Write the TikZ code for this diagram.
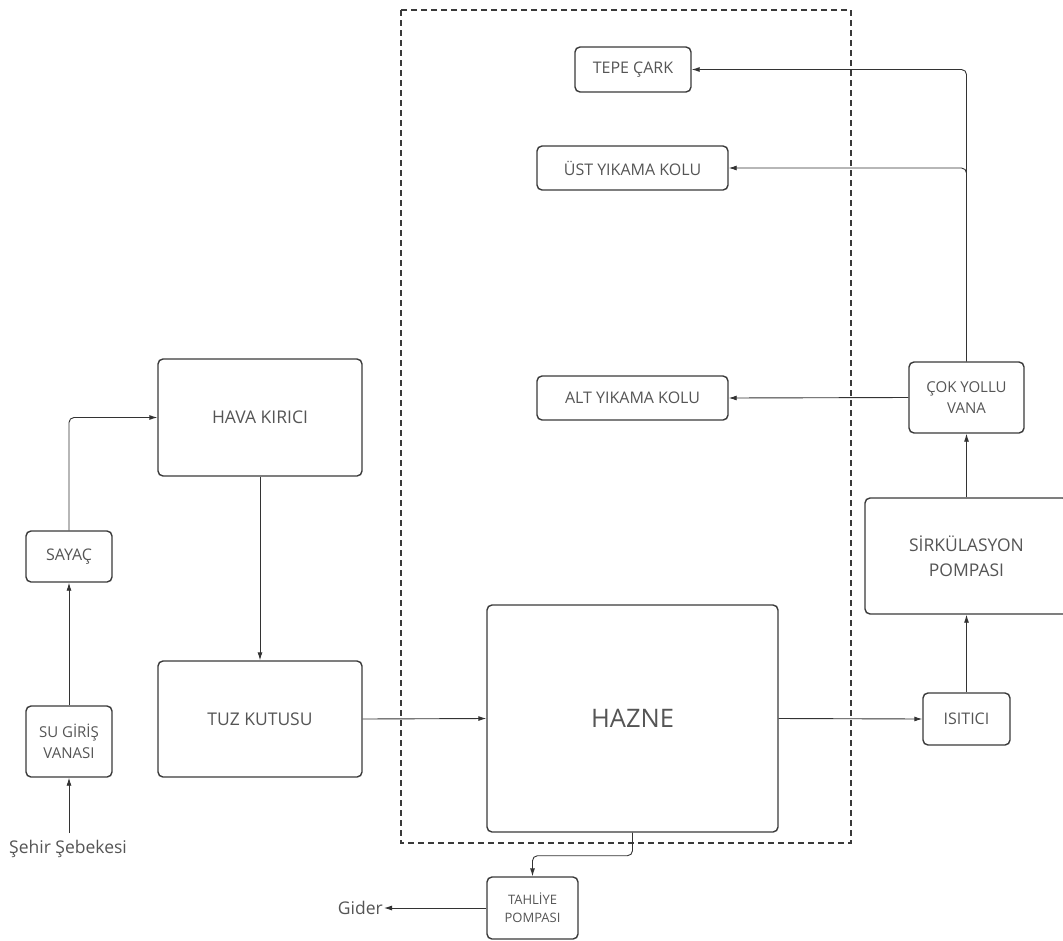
\documentclass[tikz,border=0pt]{standalone}
\usepackage{fontspec}
\setmainfont{Open Sans}
\usetikzlibrary{arrows.meta,calc}
\definecolor{edge}{HTML}{3A3A3A}
\definecolor{txt}{HTML}{555555}
\definecolor{wire}{HTML}{333333}
\tikzset{
  blk/.style={draw=edge, line width=1.4pt, rounded corners=5pt, fill=white,
    inner sep=0pt, align=center, text=txt, font=\fontsize{16}{21}\selectfont},
  twoline/.style={blk, font=\fontsize{15}{21}\selectfont},
  largeblk/.style={blk, font=\fontsize{17.5}{25}\selectfont},
  smallblk/.style={blk, font=\fontsize{13}{18}\selectfont},
  bigblk/.style={blk, font=\fontsize{25.5}{30}\selectfont},
  lbl/.style={text=txt, font=\fontsize{17.5}{20}\selectfont, inner sep=1pt},
  wire/.style={draw=wire, line width=0.9pt, rounded corners=5pt,
    -{Latex[length=8pt,width=5pt]}},
  group/.style={draw=edge, line width=1.4pt, dash pattern=on 6pt off 4pt},
}
\begin{document}
\begin{tikzpicture}[x=1pt,y=-1pt]
\useasboundingbox (0,0) rectangle (1063,940);
% dashed enclosure
\draw[group] (401,10) rectangle (851,843);
% blocks
\node[blk, minimum width=86pt, minimum height=51pt] (sayac) at (69,556.5) {SAYAÇ};
\node[twoline, minimum width=86pt, minimum height=71pt] (sugiris) at (69,741.5) {SU GİRİŞ\\VANASI};
\node[largeblk, minimum width=204pt, minimum height=117pt] (hava) at (260,417.5) {HAVA KIRICI};
\node[largeblk, minimum width=204pt, minimum height=116pt] (tuz) at (260,719) {TUZ KUTUSU};
\node[bigblk, minimum width=291pt, minimum height=227pt] (hazne) at (632.5,718.5) {HAZNE};
\node[smallblk, minimum width=91pt, minimum height=62pt] (tahliye) at (532.5,908) {TAHLİYE\\POMPASI};
\node[blk, minimum width=87pt, minimum height=52pt] (isitici) at (966.5,719) {ISITICI};
\node[largeblk, minimum width=203pt, minimum height=116pt] (sirk) at (966.5,556) {SİRKÜLASYON\\POMPASI};
\node[twoline, minimum width=115pt, minimum height=71pt] (cok) at (966.5,397.5) {ÇOK YOLLU\\VANA};
\node[blk, minimum width=116pt, minimum height=45pt] (tepe) at (633,69.5) {TEPE ÇARK};
\node[blk, minimum width=191pt, minimum height=44pt] (ust) at (632.5,168) {ÜST YIKAMA KOLU};
\node[blk, minimum width=191pt, minimum height=44pt] (alt) at (632.5,398) {ALT YIKAMA KOLU};
% free labels
\node[lbl] (sehir) at (68,849) {Şehir Şebekesi};
\node[lbl, anchor=east] (gider) at (384,908) {Gider};
\coordinate (src) at (69,833);
% connectors
\draw[wire] (src) -- (sugiris.south);
\draw[wire] (sugiris.north) -- (sayac.south);
\draw[wire] (sayac.north) |- (hava.west);
\draw[wire] (hava.south) -- (tuz.north);
\draw[wire] (tuz.east) -- (hazne.west);
\draw[wire] (hazne.east) -- (isitici.west);
\draw[wire] (isitici.north) -- (sirk.south);
\draw[wire] (sirk.north) -- (cok.south);
\draw[wire] (cok.west) -- (alt.east);
\draw[wire] (cok.north) |- (tepe.east);
\draw[wire] (cok.north) |- (ust.east);
\draw[wire] (hazne.south) -- ++(0,23) -| (tahliye.north);
\draw[wire] (tahliye.west) -- (gider.east);
\end{tikzpicture}
\end{document}
